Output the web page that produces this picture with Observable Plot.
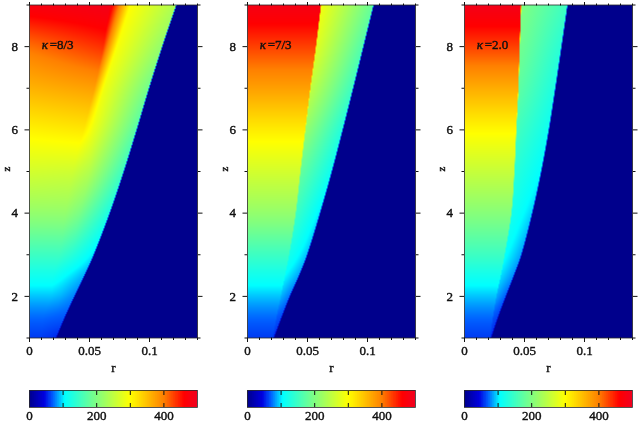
<!DOCTYPE html>
<html><head><meta charset="utf-8">
<script src="https://cdn.jsdelivr.net/npm/d3@7"></script>
<script src="https://cdn.jsdelivr.net/npm/@observablehq/plot@0.6"></script>
<style>
html,body{margin:0;padding:0;background:#fff;}
#c{position:relative;width:639px;height:422px;overflow:hidden;filter:blur(0.35px);}
#c svg{position:absolute;top:0;display:block;overflow:visible;}
#c svg text{stroke:#111;stroke-width:0.4px;}
</style></head><body><div id="c"></div>
<script>
// Rows of the field
const zRows = [1,1.5,2,2.5,3,4,5,6,7,8,9];

// panel kappa = 8/3
const p1Label = "=8/3";
const p1Axis  = [60,72,92,118,150,215,265,310,360,408,480];
const p1RA    = [.010,.012,.018,.020,.025,.030,.036,.045,.054,.0615,.0665];
const p1TA    = [60,72,92,118,150,215,262,318,375,438,490];
const p1RB    = [.016,.020,.026,.028,.035,.042,.050,.053,.062,.073,.084];
const p1TB    = [58,70,88,108,135,195,240,285,290,295,300];
const p1R2    = [.0222,.0295,.0375,.0458,.0536,.0668,.0785,.0892,.0995,.1105,.1222];
const p1T2    = [55,68,78,88,100,125,150,170,190,215,235];

// panel kappa = 7/3
const p2Label = "=7/3";
const p2Axis  = [60,72,92,118,150,215,265,315,375,430,485];
const p2RA    = [.021,.024,.0275,.031,.0345,.040,.0439,.048,.0522,.0569,.0611];
const p2TA    = [60,72,92,118,150,215,265,315,375,430,485];
const p2RB    = [.0214,.0244,.0279,.0314,.0349,.0404,.0443,.0484,.0526,.0573,.0615];
const p2TB    = [58,68,88,105,120,150,180,215,250,275,290];
const p2R2    = [.022,.0285,.0353,.043,.0498,.0605,.0703,.0793,.088,.0965,.105];
const p2T2    = [55,65,75,85,92,100,115,130,150,165,180];

// panel kappa = 2.0
const p3Label = "=2.0";
const p3Axis  = [60,72,92,118,150,205,255,305,365,430,490];
const p3RA    = [.021,.0235,.0264,.030,.0333,.0389,.0414,.043,.0447,.0458,.047];
const p3TA    = [60,72,92,118,150,205,255,305,365,430,490];
const p3RB    = [.0214,.0239,.0268,.0304,.0337,.0393,.0418,.0434,.0451,.0462,.0474];
const p3TB    = [58,66,85,98,108,120,135,155,175,190,200];
const p3R2    = [.0222,.028,.0345,.0412,.0475,.0565,.064,.0703,.0757,.0808,.0858];
const p3T2    = [55,62,70,80,85,95,105,115,125,135,150];

// Colour bar and scale
const colorStops  = [0,45,70,105,200,300,400,460,500];
const colorValues = ["#00008c","#0000e0","#0060ff","#00ffff","#80ff80","#ffff00","#ff8000","#ff0000","#f00020"];
const barValues = d3.range(0,500,2);
const barMajor = [0,200,400];
const barInner = [100,200,300,400];

// Axis ticks
const rMajor = [0,0.05,0.1];
const rMinor = [0.01,0.02,0.03,0.04,0.06,0.07,0.08,0.09,0.11,0.12,0.13,0.14];
const zMajor = [2,4,6,8];
const zMinor = [1,3,5,7,9];
const rMax = 0.14;
const zMin = 1, zMax = 9;
const edgeGap = 0.0004;

const font = {fontFamily:"'Liberation Serif',serif",fontSize:"13px",background:"transparent",color:"#111"};
const colorScale = {type:"linear",domain:colorStops,range:colorValues,interpolate:"rgb",clamp:true};

// The knots of every row: position and value, left to right
function knotRows(p){
  return zRows.map((z,i)=>({
    r:[0,p.ra[i],p.rb[i],p.r2[i]-edgeGap,p.r2[i]+edgeGap,rMax],
    t:[p.axis[i],p.ta[i],p.tb[i],p.t2[i],0,0]
  }));
}
function samples(p){
  return knotRows(p).flatMap((row,i)=>row.r.map((r,k)=>({r,z:zRows[i],t:row.t[k]})));
}
// Follows the knots from row to row, so the sharp fronts stay sharp
function fieldInterpolator(p){
  const rows = knotRows(p), n = rows.length, nk = rows[0].r.length;
  const hermite = (get,j,z)=>{
    const h=zRows[j+1]-zRows[j], s=(z-zRows[j])/h, s2=s*s, s3=s2*s;
    const tan=i=>{
      const a=Math.max(i-1,0), b=Math.min(i+1,n-1);
      return (get(rows[b])-get(rows[a]))/(zRows[b]-zRows[a]);
    };
    return (2*s3-3*s2+1)*get(rows[j])+(s3-2*s2+s)*h*tan(j)+(-2*s3+3*s2)*get(rows[j+1])+(s3-s2)*h*tan(j+1);
  };
  return (index,width,height)=>{
    const out = new Float64Array(width*height);
    for(let py=0;py<height;py++){
      const z = zMax-(py+0.5)/height*(zMax-zMin);
      let j=0;
      while(j<n-2 && z>zRows[j+1]) j++;
      const kr=[], kt=[];
      for(let k=0;k<nk;k++){
        kr.push(hermite(row=>row.r[k],j,z));
        kt.push(k>=4?0:Math.max(hermite(row=>row.t[k],j,z),0));
      }
      let seg=0;
      for(let px=0;px<width;px++){
        const r=(px+0.5)/width*rMax;
        while(seg<nk-2 && r>kr[seg+1]) seg++;
        const d=kr[seg+1]-kr[seg];
        const f=d>0?Math.min(Math.max((r-kr[seg])/d,0),1):0;
        out[py*width+px]=kt[seg]+(kt[seg+1]-kt[seg])*f;
      }
    }
    return out;
  };
}

const panels = [
  {left:0,  label:p1Label,axis:p1Axis,ra:p1RA,ta:p1TA,rb:p1RB,tb:p1TB,r2:p1R2,t2:p1T2},
  {left:218,label:p2Label,axis:p2Axis,ra:p2RA,ta:p2TA,rb:p2RB,tb:p2TB,r2:p2R2,t2:p2T2},
  {left:435,label:p3Label,axis:p3Axis,ra:p3RA,ta:p3TA,rb:p3RB,tb:p3TB,r2:p3R2,t2:p3T2}
];
const host = document.getElementById("c");
const fmt = d=>String(d);

for (const p of panels){
  const main = Plot.plot({
    width:203,height:385,marginLeft:29,marginRight:6,marginTop:4.5,marginBottom:47.5,
    style:font,
    x:{domain:[0,rMax]},
    y:{domain:[zMin,zMax]},
    color:colorScale,
    marks:[
      Plot.raster(samples(p),{x:"r",y:"z",fill:"t",x1:0,x2:rMax,y1:zMax,y2:zMin,interpolate:fieldInterpolator(p)}),
      Plot.frame({stroke:"#2a2a2a",strokeWidth:0.8}),
      Plot.axisX(rMajor,{anchor:"bottom",tickSize:4.5,tickPadding:3,tickFormat:fmt,label:"r",labelAnchor:"center",labelArrow:"none",labelOffset:34}),
      Plot.axisX(rMinor,{anchor:"bottom",tickSize:2.5,fill:"none",label:null}),
      Plot.axisX(rMajor,{anchor:"top",tickSize:3.5,fill:"none",label:null}),
      Plot.axisX(rMinor,{anchor:"top",tickSize:2,fill:"none",label:null}),
      Plot.axisY(zMajor,{anchor:"left",tickSize:4.5,tickPadding:7,tickFormat:fmt,label:null}),
      Plot.axisY(zMinor,{anchor:"left",tickSize:2.5,fill:"none",label:null}),
      Plot.axisY(zMajor,{anchor:"right",tickSize:4.5,fill:"none",label:null}),
      Plot.axisY(zMinor,{anchor:"right",tickSize:2.5,fill:"none",label:null}),
      Plot.text(["z"],{frameAnchor:"left",dx:-23,rotate:-90,fontSize:11,fill:"#111"}),
      Plot.text(["κ"],{x:()=>0.0102,y:()=>8.05,text:d=>d,textAnchor:"start",fontStyle:"italic",fill:"#111"}),
      Plot.text([p.label],{x:()=>0.0168,y:()=>8.05,text:d=>d,textAnchor:"start",fill:"#111"})
    ]
  });
  main.style.left = p.left+"px";
  host.appendChild(main);

  const bar = Plot.plot({
    width:203,height:37,marginLeft:29,marginRight:6,marginTop:5,marginBottom:15,
    style:font,
    x:{domain:[0,500]},
    y:{axis:null,domain:[0,1]},
    color:colorScale,
    marks:[
      Plot.rect(barValues,{x1:d=>d,x2:d=>d+2.6,y1:()=>0,y2:()=>1,fill:d=>d,shapeRendering:"crispEdges"}),
      Plot.axisX(barInner,{anchor:"top",tickSize:-4,fill:"none",label:null}),
      Plot.axisX(barInner,{anchor:"bottom",tickSize:-4,fill:"none",label:null}),
      Plot.frame({stroke:"#2a2a2a",strokeWidth:0.8}),
      Plot.axisX(barMajor,{anchor:"bottom",tickSize:0,tickPadding:3,tickFormat:fmt,label:null})
    ]
  });
  bar.style.left = p.left+"px";
  bar.style.top = "385px";
  host.appendChild(bar);
}
</script></body></html>
